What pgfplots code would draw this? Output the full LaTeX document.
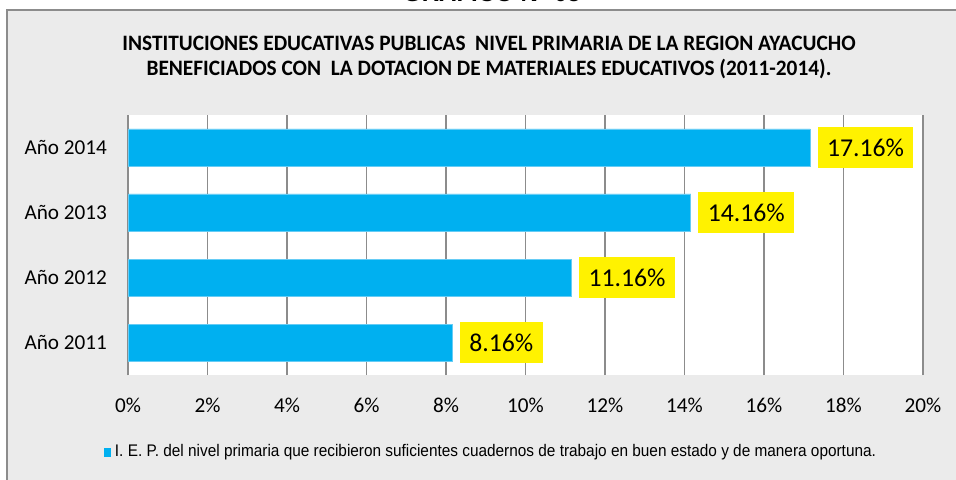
\documentclass[border=0pt]{standalone}
\usepackage{fontspec}
\setmainfont{Carlito}
\newfontfamily\titlefont[FakeStretch=0.97]{Carlito}
\newfontfamily\legfont[FakeStretch=0.915]{Liberation Sans}
\newfontfamily\gfont{Liberation Sans}
\usepackage{pgfplots}
\pgfplotsset{compat=1.18}
\definecolor{barblue}{HTML}{00B0F0}
\definecolor{baredge}{HTML}{66CCF5}
\definecolor{bggray}{HTML}{EBEBEB}
\definecolor{gridgray}{HTML}{8C8C8C}
\begin{document}
\begin{tikzpicture}
\begin{scope}[x=0.5pt,y=-0.5pt]
\useasboundingbox (0,0) rectangle (956,480);
\clip (0,0) rectangle (956,480);
\fill[bggray] (7,10) rectangle (970,490);
\draw[gridgray, line width=1pt] (7,490) -- (7,10) -- (970,10);
\node[anchor=base, inner sep=0pt, font=\gfont\bfseries\fontsize{12}{14}\selectfont] at (492,2) {GRÁFICO N° 05};
\node[anchor=base, inner sep=0pt, font=\titlefont\bfseries\fontsize{11}{13}\selectfont] at (489,50.7) {INSTITUCIONES EDUCATIVAS PUBLICAS\ \ NIVEL PRIMARIA DE LA REGION AYACUCHO};
\node[anchor=base, inner sep=0pt, font=\titlefont\bfseries\fontsize{11}{13}\selectfont] at (489,76) {BENEFICIADOS CON\ \ LA DOTACION DE MATERIALES EDUCATIVOS (2011-2014).};
\end{scope}
\begin{axis}[
  at={(64pt,-187.5pt)}, anchor=south west,
  width=397.5pt, height=130pt, scale only axis,
  xbar, bar width=18.5pt,
  xmin=0, xmax=20, ymin=-0.5, ymax=3.5,
  ytick={0,1,2,3},
  yticklabels={Año 2011,Año 2012,Año 2013,Año 2014},
  xtick={0,2,...,20},
  xticklabel={\pgfmathprintnumber{\tick}\%},
  /pgf/number format/assume math mode=true,
  major tick length=0pt,
  axis y line*=left, axis x line*=bottom,
  x axis line style={draw=none},
  y axis line style={draw=gridgray, line width=0.75pt},
  xmajorgrids, grid style={gridgray, line width=0.75pt},
  axis background/.style={fill=white},
  tick label style={font=\fontsize{10.6}{12}\selectfont, text=black},
  xticklabel style={yshift=-8pt},
  yticklabel style={xshift=-7pt},
  point meta=x,
  nodes near coords={\pgfmathprintnumber[fixed,fixed zerofill,precision=2]{\pgfplotspointmeta}\%},
  every node near coord/.append style={anchor=west, xshift=3.5pt, fill=yellow, text=black, font=\fontsize{12.85}{15}\selectfont, inner xsep=4.75pt, minimum height=20.5pt},
  legend style={at={(0.458,-0.296)}, anchor=center, draw=none, fill=none, font=\legfont\fontsize{8.4}{10}\selectfont},
  legend image code/.code={\fill[barblue] (0pt,-2pt) rectangle (3pt,2pt);},
]
\addplot[fill=barblue, draw=baredge, line width=0.4pt] coordinates {(8.16,0) (11.16,1) (14.16,2) (17.16,3)};
\addlegendentry{I. E. P. del nivel primaria que recibieron suficientes cuadernos de trabajo en buen estado y de manera oportuna.}
\end{axis}
\end{tikzpicture}
\end{document}
